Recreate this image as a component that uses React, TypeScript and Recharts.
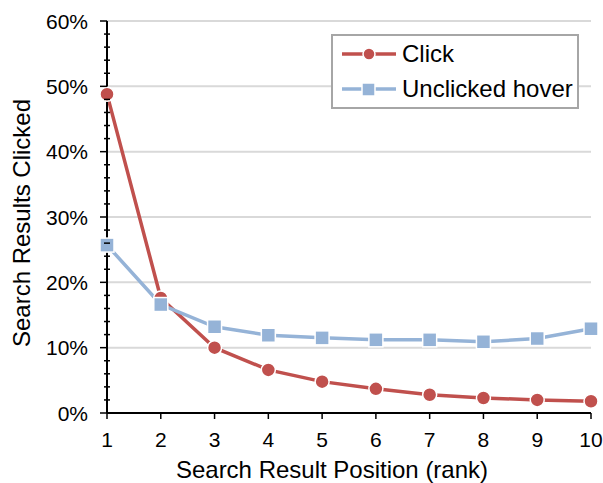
import { Line, LineChart, ReferenceLine, XAxis, YAxis } from "recharts";

const ranks = [1, 2, 3, 4, 5, 6, 7, 8, 9, 10];
const clickPct = [48.8, 17.6, 10.0, 6.6, 4.8, 3.7, 2.8, 2.3, 2.0, 1.8];
const hoverPct = [25.7, 16.6, 13.2, 11.9, 11.5, 11.2, 11.2, 10.9, 11.4, 12.9];

const yTicks = [0, 2, 4, 6, 8, 10, 12, 14, 16, 18, 20, 22, 24, 26, 28, 30, 32, 34, 36, 38, 40, 42, 44, 46, 48, 50, 52, 54, 56, 58, 60];
const gridValues = [10, 20, 30, 40, 50, 60];

const RED = "#c0504d";
const BLUE = "#95b3d7";
const FONT = "'Liberation Sans', Arial, sans-serif";

const data = ranks.map((r, i) => ({ rank: r, click: clickPct[i], hover: hoverPct[i] }));

const Y_TICK_SIZE = 0;
const Y_TICK_MARGIN = 0;

function YTick(props: any) {
  const { x, y, payload } = props;
  const v = payload.value as number;
  const axisX = x + Y_TICK_SIZE + Y_TICK_MARGIN;
  const major = v % 10 === 0;
  return (
    <g>
      <line
        x1={major ? axisX - 7 : axisX - 3}
        x2={major ? axisX : axisX + 3}
        y1={y}
        y2={y}
        stroke="#000"
        strokeWidth={1.5}
      />
      {major && (
        <text x={axisX - 19} y={y} dy="0.36em" textAnchor="end" fontSize={21} fontFamily={FONT} fill="#000">
          {v}%
        </text>
      )}
    </g>
  );
}

function SquareDot(props: any) {
  const { cx, cy, index } = props;
  if (cx == null || cy == null) return <g key={index} />;
  return <rect key={index} x={cx - 7} y={cy - 7} width={14} height={14} fill={BLUE} stroke="#fff" strokeWidth={1.5} />;
}

function LegendIcon({ color, square }: { color: string; square?: boolean }) {
  return (
    <svg width={56} height={14} style={{ marginRight: 5 }}>
      <line x1={1} x2={55} y1={7} y2={7} stroke={color} strokeWidth={3.5} />
      {square ? (
        <rect x={21} y={1} width={13} height={13} fill={color} stroke="#fff" strokeWidth={1.5} />
      ) : (
        <circle cx={28} cy={7} r={6} fill={color} stroke="#fff" strokeWidth={1.5} />
      )}
    </svg>
  );
}

export default function App() {
  return (
    <div style={{ position: "absolute", left: 0, top: 0, width: 603, height: 483, background: "#fff", fontFamily: FONT }}>
      <LineChart width={603} height={483} data={data} margin={{ top: 21, right: 12, bottom: 40, left: 0 }}>
        <XAxis
          dataKey="rank"
          type="number"
          domain={[1, 10]}
          ticks={ranks}
          tickSize={6}
          tickMargin={13}
          height={30}
          axisLine={{ stroke: "#000", strokeWidth: 2 }}
          tickLine={{ stroke: "#000", strokeWidth: 1.5 }}
          tick={{ fontSize: 21, fill: "#000", fontFamily: FONT }}
          label={{
            content: (p: any) => {
              const vb = p.viewBox;
              return (
                <text x={vb.x + vb.width / 2 - 17} y={469} dy="0.36em" textAnchor="middle" fontSize={24} fontFamily={FONT} fill="#000">
                  Search Result Position (rank)
                </text>
              );
            }
          }}
        />
        <YAxis
          type="number"
          domain={[0, 60]}
          ticks={yTicks}
          interval={0}
          width={107}
          tickSize={Y_TICK_SIZE}
          tickMargin={Y_TICK_MARGIN}
          tickLine={false}
          axisLine={{ stroke: "#000", strokeWidth: 2 }}
          tick={<YTick />}
          label={{
            content: (p: any) => {
              const vb = p.viewBox;
              const cx = 21;
              const cy = vb.y + vb.height / 2 + 6;
              return (
                <text x={cx} y={cy} dy="0.36em" textAnchor="middle" fontSize={24} fontFamily={FONT} fill="#000" transform={`rotate(-90 ${cx} ${cy})`}>
                  Search Results Clicked
                </text>
              );
            }
          }}
        />
        {gridValues.map((g) => (
          <ReferenceLine key={g} y={g} stroke="#d9d9d9" strokeWidth={2} />
        ))}
        <Line
          dataKey="click"
          stroke={RED}
          strokeWidth={3.5}
          isAnimationActive={false}
          dot={{ r: 7, fill: RED, stroke: "#fff", strokeWidth: 1.5 }}
          activeDot={false}
        />
        <Line
          dataKey="hover"
          stroke={BLUE}
          strokeWidth={3.5}
          isAnimationActive={false}
          dot={<SquareDot />}
          activeDot={false}
        />
      </LineChart>
      <div
        style={{
          position: "absolute",
          left: 331,
          top: 34,
          width: 248,
          height: 75,
          border: "2px solid #a6a6a6",
          background: "#fff",
          fontSize: 24,
          color: "#000",
          display: "flex",
          flexDirection: "column",
          justifyContent: "center",
          paddingLeft: 8,
          boxSizing: "border-box"
        }}
      >
        <div style={{ display: "flex", alignItems: "center", height: 37 }}>
          <LegendIcon color={RED} />
          <span>Click</span>
        </div>
        <div style={{ display: "flex", alignItems: "center", height: 37 }}>
          <LegendIcon color={BLUE} square />
          <span>Unclicked hover</span>
        </div>
      </div>
    </div>
  );
}
